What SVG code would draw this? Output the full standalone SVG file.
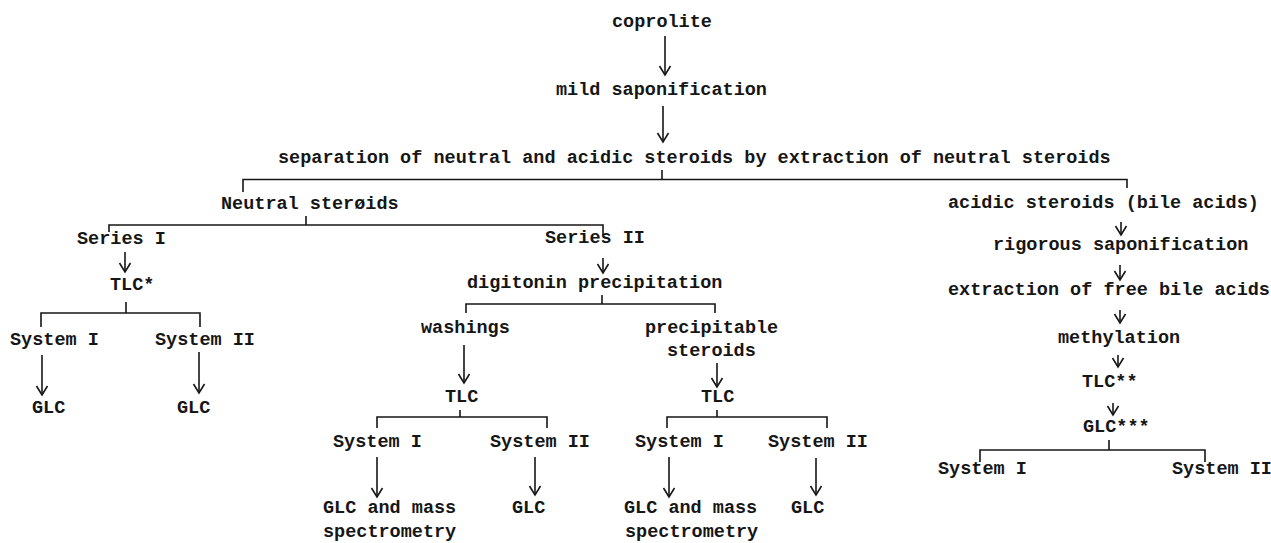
<svg xmlns="http://www.w3.org/2000/svg" width="1271" height="543" viewBox="0 0 1271 543">
<style>
text{font-family:"Liberation Mono","DejaVu Sans Mono",monospace;font-size:18.5px;font-weight:bold;fill:#161616}
.c line,.c path{stroke:#161616;stroke-width:1.6;fill:none}
.a{marker-end:url(#ah)}
</style>
<defs>
<marker id="ah" markerUnits="userSpaceOnUse" markerWidth="20" markerHeight="20" refX="0" refY="0" orient="auto" overflow="visible">
<path d="M-9,-5.5 L0,0 L-9,5.5" stroke="#161616" stroke-width="1.6" fill="none"/>
</marker>
</defs>
<rect width="1271" height="543" fill="#fff"/>
<g id="n-coprolite"><text x="612" y="27">coprolite</text></g>
<g id="n-mild"><text x="556" y="95">mild saponification</text></g>
<g id="n-separation"><text x="278" y="163">separation of neutral and acidic steroids by extraction of neutral steroids</text></g>
<g id="n-neutral"><text x="221" y="209">Neutral sterøids</text></g>
<g id="n-acidic"><text x="948" y="208">acidic steroids (bile acids)</text></g>
<g id="n-series1"><text x="77" y="244">Series I</text></g>
<g id="n-series2"><text x="545" y="243">Series II</text></g>
<g id="n-tlc1"><text x="110" y="290">TLC*</text></g>
<g id="n-digitonin"><text x="467" y="288">digitonin precipitation</text></g>
<g id="n-rigorous"><text x="993" y="250">rigorous saponification</text></g>
<g id="n-extraction"><text x="948" y="295">extraction of free bile acids</text></g>
<g id="n-methylation"><text x="1058" y="343">methylation</text></g>
<g id="n-s1a"><text x="10" y="345">System I</text></g>
<g id="n-s2a"><text x="155" y="345">System II</text></g>
<g id="n-washings"><text x="421" y="333">washings</text></g>
<g id="n-precip"><text x="645" y="333">precipitable</text><text x="667" y="356">steroids</text></g>
<g id="n-glc1"><text x="32" y="413">GLC</text></g>
<g id="n-glc2"><text x="177" y="413">GLC</text></g>
<g id="n-tlc2"><text x="445" y="402">TLC</text></g>
<g id="n-tlc3"><text x="701" y="402">TLC</text></g>
<g id="n-tlc4"><text x="1082" y="387">TLC**</text></g>
<g id="n-glc5"><text x="1083" y="432">GLC***</text></g>
<g id="n-s1b"><text x="333" y="447">System I</text></g>
<g id="n-s2b"><text x="490" y="447">System II</text></g>
<g id="n-s1c"><text x="635" y="447">System I</text></g>
<g id="n-s2c"><text x="768" y="447">System II</text></g>
<g id="n-glcms1"><text x="323" y="513">GLC and mass</text><text x="323" y="537">spectrometry</text></g>
<g id="n-glc3"><text x="512" y="513">GLC</text></g>
<g id="n-glcms2"><text x="624" y="513">GLC and mass</text><text x="625" y="537">spectrometry</text></g>
<g id="n-glc4"><text x="791" y="513">GLC</text></g>
<g id="n-s1d"><text x="938" y="474">System I</text></g>
<g id="n-s2d"><text x="1172" y="474">System II</text></g>
<g id="connectors" class="c">
<line class="a" x1="665" y1="36" x2="665" y2="75"/>
<line class="a" x1="663" y1="106" x2="663" y2="142"/>
<path d="M662,170V179.5M243,192V179.5H1127V188"/>
<path d="M306,216V225M109,232V225H603V235"/>
<line class="a" x1="125" y1="252" x2="125" y2="272"/>
<line class="a" x1="603" y1="258" x2="603" y2="273"/>
<path d="M126,302V313M41,327V313H200V327"/>
<line class="a" x1="42" y1="355" x2="42" y2="395"/>
<line class="a" x1="199" y1="352" x2="199" y2="393"/>
<path d="M602,295V304M466,313V304H715V313"/>
<line class="a" x1="464" y1="345" x2="464" y2="383"/>
<line class="a" x1="717" y1="363" x2="717" y2="387"/>
<path d="M460,410V417M377,428V417H547V428"/>
<path d="M717,410V417M667,428V417H827V428"/>
<line class="a" x1="377" y1="457" x2="377" y2="497"/>
<line class="a" x1="535" y1="457" x2="535" y2="495"/>
<line class="a" x1="669" y1="457" x2="669" y2="497"/>
<line class="a" x1="816" y1="458" x2="816" y2="495"/>
<line class="a" x1="1121" y1="222" x2="1121" y2="235"/>
<line class="a" x1="1120" y1="265" x2="1120" y2="280"/>
<line class="a" x1="1120" y1="310" x2="1120" y2="323"/>
<line class="a" x1="1118" y1="355" x2="1118" y2="367"/>
<line class="a" x1="1113" y1="403" x2="1113" y2="415"/>
<path d="M1109,440V450M980,462V450H1205V462"/>
</g>
</svg>
